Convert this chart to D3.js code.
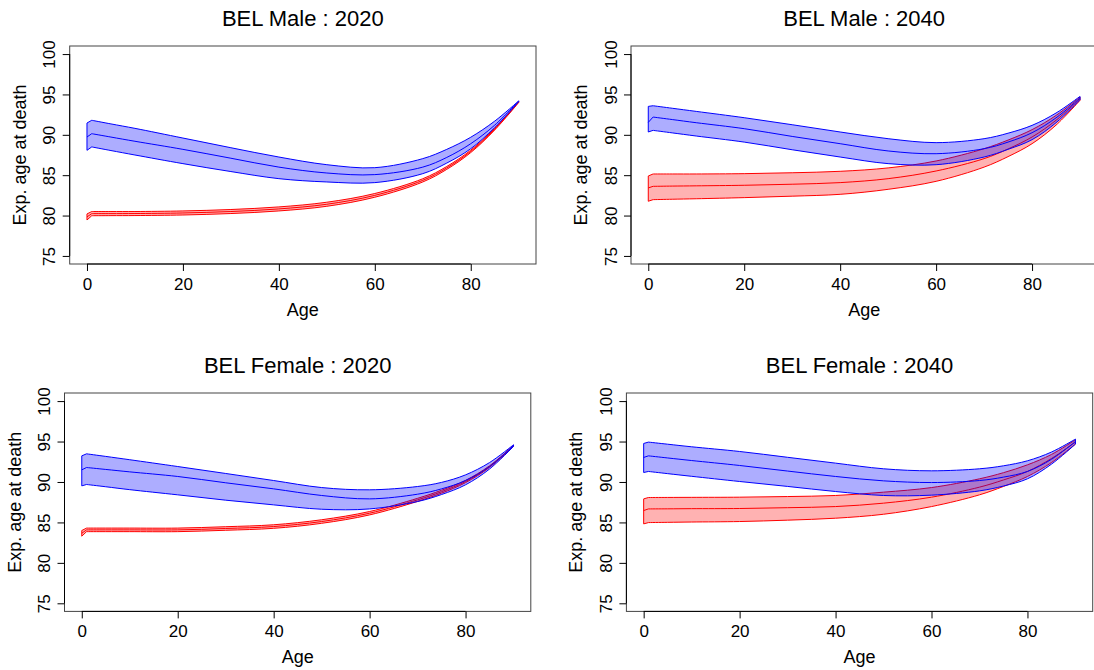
<!DOCTYPE html>
<html>
<head>
<meta charset="utf-8">
<script src="https://cdn.jsdelivr.net/npm/d3@7"></script>
<style>
  html, body { margin: 0; padding: 0; background: #fff; }
  svg { display: block; font-family: "Liberation Sans", Arial, Helvetica, sans-serif; }
</style>
</head>
<body>
<svg id="chart" width="1094" height="670"></svg>
<script>
// Age grid at which the expected age at death is given
const ages = [0, 1, 5, 10, 20, 30, 40, 50, 60, 70, 75, 80, 85, 90];

// Tick labels
const xTicks = [0, 20, 40, 60, 80];
const yTicks = [75, 80, 85, 90, 95, 100];

// Panel titles
const titles = ["BEL Male : 2020", "BEL Male : 2040", "BEL Female : 2020", "BEL Female : 2040"];

// Male 2020 — blue band (lower / central / upper)
const m2020BlueLo  = [88.08, 88.50, 88.05, 87.50, 86.43, 85.45, 84.57, 84.16, 84.08, 85.19, 86.50, 88.28, 90.90, 94.10];
const m2020BlueMid = [89.73, 90.14, 89.72, 89.20, 88.20, 87.10, 86.00, 85.27, 85.07, 86.00, 87.20, 88.90, 91.20, 94.20];
const m2020BlueHi  = [91.46, 91.80, 91.35, 90.80, 89.60, 88.40, 87.25, 86.30, 85.93, 87.05, 88.20, 89.70, 91.70, 94.20];
// Male 2020 — red band
const m2020RedLo   = [79.45, 79.98, 79.99, 80.00, 80.07, 80.25, 80.57, 81.15, 82.27, 84.16, 85.72, 87.80, 90.60, 94.00];
const m2020RedMid  = [79.83, 80.24, 80.24, 80.25, 80.32, 80.50, 80.82, 81.40, 82.50, 84.36, 85.90, 87.95, 90.70, 94.06];
const m2020RedHi   = [80.20, 80.50, 80.50, 80.50, 80.57, 80.75, 81.07, 81.65, 82.73, 84.56, 86.08, 88.10, 90.80, 94.10];

// Male 2040 — blue band
const m2040BlueLo  = [90.35, 90.55, 90.24, 89.85, 89.10, 88.15, 87.25, 86.43, 86.30, 87.25, 88.20, 89.40, 91.50, 94.35];
const m2040BlueMid = [91.54, 92.20, 91.89, 91.50, 90.76, 89.80, 88.90, 88.00, 87.66, 88.28, 89.10, 90.26, 92.10, 94.55];
const m2040BlueHi  = [93.52, 93.60, 93.29, 92.90, 92.12, 91.25, 90.35, 89.52, 89.03, 89.52, 90.20, 91.17, 92.70, 94.76];
// Male 2040 — red band
const m2040RedLo   = [81.77, 81.97, 82.02, 82.08, 82.22, 82.40, 82.63, 83.25, 84.24, 86.00, 87.30, 88.90, 91.20, 94.27];
const m2040RedMid  = [83.42, 83.62, 83.65, 83.68, 83.75, 83.88, 84.08, 84.57, 85.52, 87.05, 88.25, 89.73, 91.80, 94.47];
const m2040RedHi   = [84.90, 85.15, 85.15, 85.15, 85.19, 85.30, 85.48, 85.90, 86.76, 88.28, 89.35, 90.64, 92.40, 94.68];

// Female 2020 — blue band
const f2020BlueLo  = [89.52, 89.69, 89.41, 89.05, 88.41, 87.75, 87.17, 86.63, 86.67, 87.58, 88.45, 89.65, 91.60, 94.39];
const f2020BlueMid = [91.50, 91.79, 91.55, 91.25, 90.68, 89.90, 89.15, 88.33, 87.91, 88.49, 89.15, 90.18, 91.90, 94.51];
const f2020BlueHi  = [93.23, 93.48, 93.16, 92.75, 91.91, 91.05, 90.18, 89.31, 89.03, 89.44, 89.95, 90.88, 92.40, 94.60];
// Female 2020 — red band
const f2020RedLo   = [83.30, 83.86, 83.86, 83.86, 83.86, 84.03, 84.27, 84.89, 85.93, 87.60, 88.62, 89.92, 91.80, 94.42];
const f2020RedMid  = [83.66, 84.08, 84.08, 84.08, 84.08, 84.25, 84.49, 85.11, 86.14, 87.79, 88.80, 90.06, 91.90, 94.47];
const f2020RedHi   = [84.00, 84.30, 84.30, 84.30, 84.30, 84.47, 84.71, 85.33, 86.35, 87.98, 88.98, 90.20, 92.00, 94.52];

// Female 2040 — blue band
const f2040BlueLo  = [91.17, 91.30, 91.03, 90.70, 90.06, 89.45, 88.82, 88.33, 88.37, 88.90, 89.50, 90.39, 92.20, 94.68];
const f2040BlueMid = [93.03, 93.23, 92.97, 92.65, 92.04, 91.35, 90.68, 90.14, 89.93, 90.18, 90.60, 91.30, 92.80, 95.00];
const f2040BlueHi  = [94.76, 94.93, 94.67, 94.35, 93.77, 93.05, 92.33, 91.63, 91.38, 91.63, 92.00, 92.62, 93.70, 95.30];
// Female 2040 — red band
const f2040RedLo   = [84.82, 84.98, 85.01, 85.05, 85.11, 85.28, 85.52, 86.01, 86.96, 88.41, 89.45, 90.68, 92.40, 94.68];
const f2040RedMid  = [86.47, 86.67, 86.68, 86.70, 86.72, 86.82, 86.96, 87.38, 88.12, 89.36, 90.25, 91.30, 92.90, 94.93];
const f2040RedHi   = [87.91, 88.08, 88.09, 88.10, 88.12, 88.20, 88.33, 88.74, 89.31, 90.39, 91.15, 92.12, 93.40, 95.21];

const panelData = [
  { blue: [m2020BlueLo, m2020BlueMid, m2020BlueHi], red: [m2020RedLo, m2020RedMid, m2020RedHi] },
  { blue: [m2040BlueLo, m2040BlueMid, m2040BlueHi], red: [m2040RedLo, m2040RedMid, m2040RedHi] },
  { blue: [f2020BlueLo, f2020BlueMid, f2020BlueHi], red: [f2020RedLo, f2020RedMid, f2020RedHi] },
  { blue: [f2040BlueLo, f2040BlueMid, f2040BlueHi], red: [f2040RedLo, f2040RedMid, f2040RedHi] }
];

// Plot-region placement of each panel (pixels)
const regions = [
  { left: 69.7,  top: 46,  width: 466.3, height: 218 },
  { left: 631.0, top: 46,  width: 466.3, height: 218 },
  { left: 64.5,  top: 393, width: 466.3, height: 218.4 },
  { left: 626.4, top: 393, width: 466.3, height: 218.4 }
];

const bandStyle = {
  blue: { stroke: "#0000ff", fill: "rgba(0,0,255,0.32)" },
  red:  { stroke: "#ff0000", fill: "rgba(255,0,0,0.30)" }
};

// R-style extended domains (4% padding on each side)
const xDomain = [-3.6, 93.6];
const yDomain = [74, 101];

const tickFont = "17px";
const labelFont = "18px";
const titleFont = "22px";

const svg = d3.select("#chart");
const smooth = d3.curveCatmullRom.alpha(0.5);

panelData.forEach((pd, i) => {
  const r = regions[i];
  const g = svg.append("g").attr("transform", `translate(${r.left},${r.top})`);

  const x = d3.scaleLinear().domain(xDomain).range([0, r.width]);
  const y = d3.scaleLinear().domain(yDomain).range([r.height, 0]);

  // Smooth curve from age 1 onward, joined to age 0 by a straight segment
  const curveFrom = (pts, field) => d3.line()
    .x(d => x(d.a))
    .y(d => y(d[field]))
    .curve(smooth)(pts);

  const plot = g.append("g");

  // red band first, blue band on top
  ["red", "blue"].forEach(key => {
    const [lo, mid, hi] = pd[key];
    const pts = ages.map((a, k) => ({ a, lo: lo[k], mid: mid[k], hi: hi[k] }));
    const p0 = pts[0];
    const rest = pts.slice(1);

    const upper = curveFrom(rest, "hi");
    const lowerBack = curveFrom(rest.slice().reverse(), "lo");
    const bandD = `M${x(p0.a)},${y(p0.hi)}L` + upper.slice(1) +
                  "L" + lowerBack.slice(1) +
                  `L${x(p0.a)},${y(p0.lo)}Z`;
    const midD = `M${x(p0.a)},${y(p0.mid)}L` + curveFrom(rest, "mid").slice(1);

    plot.append("path")
      .attr("d", bandD)
      .attr("fill", bandStyle[key].fill)
      .attr("stroke", bandStyle[key].stroke)
      .attr("stroke-width", 1)
      .attr("stroke-linejoin", "round");
    plot.append("path")
      .attr("d", midD)
      .attr("fill", "none")
      .attr("stroke", bandStyle[key].stroke)
      .attr("stroke-width", 1);
  });

  // frame
  g.append("rect")
    .attr("x", 0).attr("y", 0)
    .attr("width", r.width).attr("height", r.height)
    .attr("fill", "none")
    .attr("stroke", "#444")
    .attr("stroke-width", 1);

  // x axis
  const xAxis = g.append("g")
    .attr("transform", `translate(0,${r.height})`)
    .call(d3.axisBottom(x).tickValues(xTicks).tickSize(7).tickPadding(7).tickFormat(d3.format("d")));
  xAxis.select(".domain").remove();
  xAxis.append("line")
    .attr("x1", x(xTicks[0])).attr("x2", x(xTicks[xTicks.length - 1]))
    .attr("y1", 0).attr("y2", 0)
    .attr("stroke", "#000");
  xAxis.selectAll("line").attr("stroke", "#000");
  xAxis.selectAll("text")
    .attr("fill", "#000")
    .style("font-size", tickFont)
    .style("font-family", "'Liberation Sans', Arial, sans-serif");

  // y axis with labels parallel to the axis
  const yAxis = g.append("g")
    .call(d3.axisLeft(y).tickValues(yTicks).tickSize(7).tickFormat(d3.format("d")));
  yAxis.select(".domain").remove();
  yAxis.append("line")
    .attr("x1", 0).attr("x2", 0)
    .attr("y1", y(yTicks[0])).attr("y2", y(yTicks[yTicks.length - 1]))
    .attr("stroke", "#000");
  yAxis.selectAll("line").attr("stroke", "#000");
  yAxis.selectAll(".tick text")
    .attr("x", null).attr("dy", null)
    .attr("transform", "translate(-14.5,0) rotate(-90)")
    .attr("text-anchor", "middle")
    .attr("fill", "#000")
    .style("font-size", tickFont)
    .style("font-family", "'Liberation Sans', Arial, sans-serif");

  // axis titles
  g.append("text")
    .attr("x", r.width / 2)
    .attr("y", r.height + 52)
    .attr("text-anchor", "middle")
    .style("font-size", labelFont)
    .text("Age");

  g.append("text")
    .attr("transform", `translate(-44,${r.height / 2}) rotate(-90)`)
    .attr("text-anchor", "middle")
    .style("font-size", labelFont)
    .text("Exp. age at death");

  // panel title
  g.append("text")
    .attr("x", r.width / 2)
    .attr("y", -20)
    .attr("text-anchor", "middle")
    .style("font-size", titleFont)
    .text(titles[i]);
});
</script>
</body>
</html>
